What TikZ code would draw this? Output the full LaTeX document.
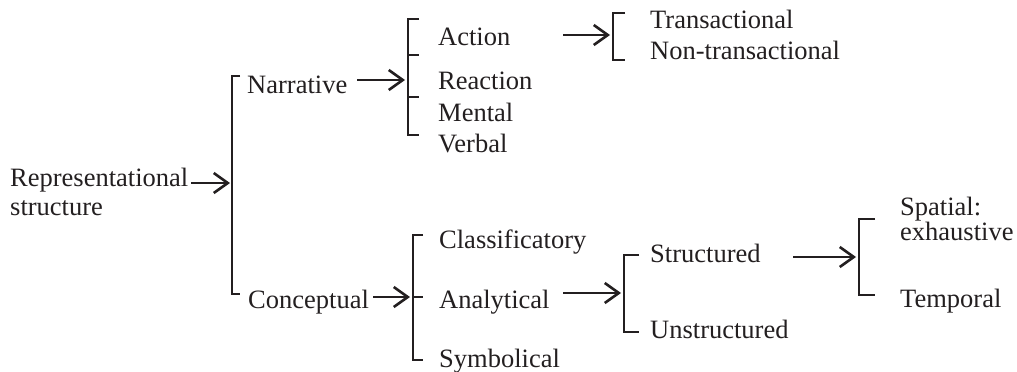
\documentclass[tikz,border=0pt]{standalone}
\usepackage{fontspec}
\setmainfont{Liberation Serif}
\usetikzlibrary{arrows.meta}
\definecolor{ink}{HTML}{231F20}
\begin{document}
\begin{tikzpicture}[x=1pt,y=-1pt,
  lbl/.style={anchor=base west,inner sep=0pt,text=ink,font=\fontsize{26.5}{29}\selectfont,align=left},
  brk/.style={draw=ink,line width=2.3pt,line cap=butt},
  arr/.style={draw=ink,line width=2.6pt,-{Straight Barb[length=14pt,width=20pt,line width=2.6pt]}}]
\useasboundingbox[fill=white] (0,0) rectangle (1017,372);

% labels
\node[lbl] (rep) at (10,215) {Representational\\structure};
\node[lbl] (nar) at (247,93) {Narrative};
\node[lbl] (con) at (248,308) {Conceptual};
\node[lbl] (act) at (438,45) {Action};
\node[lbl] (rea) at (438,89) {Reaction};
\node[lbl] (men) at (438,121) {Mental};
\node[lbl] (ver) at (438,152) {Verbal};
\node[lbl] (tra) at (650,28) {Transactional};
\node[lbl] (non) at (650,59) {Non-transactional};
\node[lbl] (cla) at (439,248) {Classificatory};
\node[lbl] (ana) at (439,308) {Analytical};
\node[lbl] (sym) at (439,367) {Symbolical};
\node[lbl] (str) at (650,262) {Structured};
\node[lbl] (uns) at (650,338) {Unstructured};
\node[lbl,font=\fontsize{26.5}{25}\selectfont] (spa) at (900,240) {Spatial:\\exhaustive};
\node[lbl] (tem) at (900,307) {Temporal};

% brackets
\coordinate (b0t) at (232,76);  \coordinate (b0b) at (232,294);
\draw[brk] (240,76) -- (b0t) -- (b0b) -- (240,294);

\coordinate (b1t) at (408,19);  \coordinate (b1b) at (408,135);
\draw[brk] (419,19) -- (b1t) -- (b1b) -- (419,135);
\draw[brk] (408,55) -- (419,55);
\draw[brk] (408,97) -- (419,97);

\coordinate (b2t) at (613,13);  \coordinate (b2b) at (613,60);
\draw[brk] (625,13) -- (b2t) -- (b2b) -- (625,60);

\coordinate (b3t) at (413,235); \coordinate (b3b) at (413,360);
\draw[brk] (423,235) -- (b3t) -- (b3b) -- (423,360);
\draw[brk] (413,297) -- (423,297);

\coordinate (b4t) at (624,255); \coordinate (b4b) at (624,332);
\draw[brk] (639,255) -- (b4t) -- (b4b) -- (639,332);

\coordinate (b5t) at (859,219); \coordinate (b5b) at (859,295);
\draw[brk] (875,219) -- (b5t) -- (b5b) -- (875,295);

% arrows
\coordinate (a0) at (191,183);
\draw[arr] (a0) -- ([xshift=-2pt]b0t |- a0);
\coordinate (a1) at (357,80);
\draw[arr] (a1) -- ([xshift=-3pt]b1t |- a1);
\coordinate (a2) at (563,35);
\draw[arr] (a2) -- ([xshift=-3pt]b2t |- a2);
\coordinate (a3) at (373,297);
\draw[arr] (a3) -- ([xshift=-3pt]b3t |- a3);
\coordinate (a4) at (563,293);
\draw[arr] (a4) -- ([xshift=-3pt]b4t |- a4);
\coordinate (a5) at (793,257);
\draw[arr] (a5) -- ([xshift=-3pt]b5t |- a5);
\end{tikzpicture}
\end{document}
